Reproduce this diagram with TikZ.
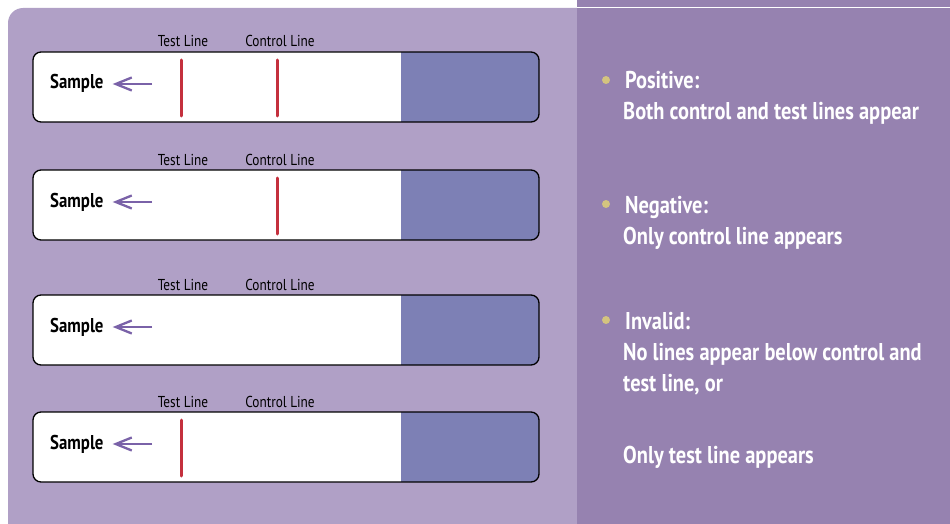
\documentclass[tikz,border=0pt]{standalone}
\usepackage{fontspec}
\usetikzlibrary{arrows.meta}
\newfontfamily\cond{PT Sans}[FakeStretch=0.84]
\definecolor{leftbg}{HTML}{B0A0C6}
\definecolor{rightbg}{HTML}{9682B0}
\definecolor{padblue}{HTML}{7D80B5}
\definecolor{lineRed}{HTML}{C4303D}
\definecolor{arrowc}{HTML}{7A62A8}
\definecolor{bulletc}{HTML}{D4C47F}
\tikzset{
  stripbox/.style={draw=black, line width=1.3pt, rounded corners=8pt},
  redline/.style={draw=lineRed, line width=3pt, line cap=round},
  lbl/.style={font=\cond\fontsize{15.8}{18}\selectfont, anchor=base, inner sep=0pt},
  samp/.style={font=\cond\bfseries\fontsize{20}{22}\selectfont, anchor=base west, inner sep=0pt},
  sarrow/.style={draw=arrowc, line width=2.5pt, shorten >=9pt, -{Straight Barb[length=16pt,width=13pt,line width=2.3pt]}},
  rtxt/.style={font=\cond\bfseries\fontsize{24.3}{27}\selectfont, text=white, anchor=base west, inner sep=0pt},
  bul/.style={circle, fill=bulletc, minimum size=8pt, inner sep=0pt}
}
\begin{document}
\begin{tikzpicture}[x=1pt,y=-1pt]
\useasboundingbox (0,0) rectangle (950,524);
\fill[white] (0,0) rectangle (950,524);
% panels
\fill[leftbg, rounded corners=15pt] (8,8) rectangle (600,540);
\fill[rightbg] (577,0) rectangle (950,524);
\draw[white, line width=1.2pt] (577,7.5) -- (950,7.5);
% strips
\foreach \t/\n in {52/1,170/2,295/3,412/4}{
  \fill[white, rounded corners=8pt] (33,\t) rectangle (539,\t+70);
  \fill[padblue, rounded corners=8pt] (401,\t) rectangle (539,\t+70);
  \fill[padblue] (401,\t) rectangle (420,\t+70);
  \node[stripbox, minimum width=506pt, minimum height=70pt, inner sep=0pt] (strip\n) at (286,\t+35) {};
  \node[lbl] (test\n) at (183,\t-5) {Test Line};
  \node[lbl] (ctrl\n) at (280,\t-5) {Control Line};
  \node[samp] (sample\n) at (50,\t+37) {Sample};
  \coordinate (af\n) at (152,\t+32);
  \draw[sarrow] (af\n) -- (sample\n.east |- af\n);
}
% red lines
\draw[redline] (181,60) -- (181,116);
\draw[redline] (277,60) -- (277,116);
\draw[redline] (277,178) -- (277,234);
\draw[redline] (181,420) -- (181,476);
% right text
\node[bul] (b1) at (606,80) {};
\node[rtxt] (pos) at (625,89) {Positive:};
\node[rtxt] (pos2) at (623,120) {Both control and test lines appear};
\node[bul] (b2) at (606,204) {};
\node[rtxt] (neg) at (625,213) {Negative:};
\node[rtxt] (neg2) at (623,244) {Only control line appears};
\node[bul] (b3) at (606,320) {};
\node[rtxt] (inv) at (625,329) {Invalid:};
\node[rtxt] (inv2) at (623,360) {No lines appear below control and};
\node[rtxt] (inv3) at (623,391) {test line, or};
\node[rtxt] (inv4) at (623,463) {Only test line appears};
\end{tikzpicture}
\end{document}
